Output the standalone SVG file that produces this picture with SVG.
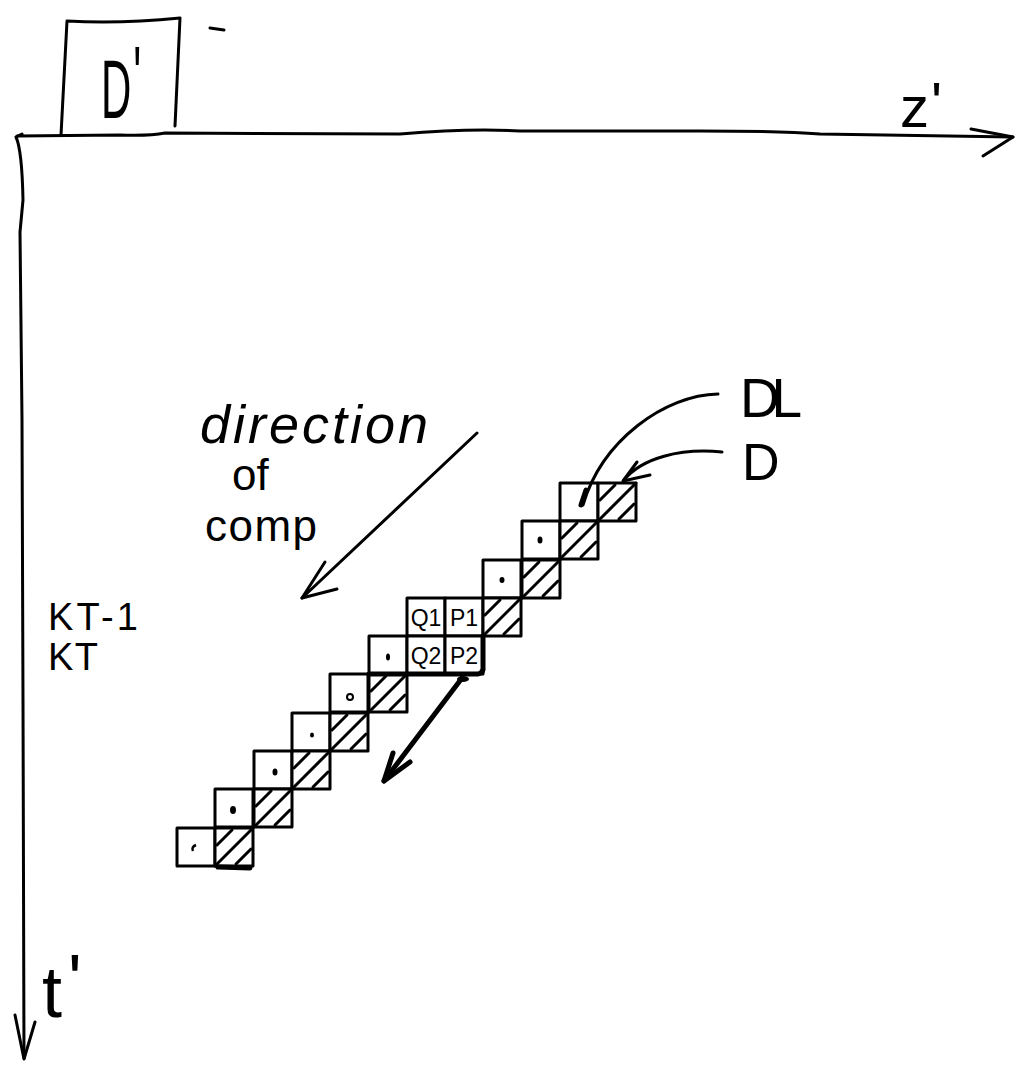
<svg xmlns="http://www.w3.org/2000/svg" xmlns:xlink="http://www.w3.org/1999/xlink" width="1021" height="1067" viewBox="0 0 1021 1067">
<style>
  .ln{fill:none;stroke:#000;stroke-width:3;stroke-linecap:round;stroke-linejoin:round}
  .thk{fill:none;stroke:#000;stroke-width:5;stroke-linecap:round;stroke-linejoin:round}
  .cell{fill:#fff;stroke:#000;stroke-width:3;stroke-linejoin:round}
  .hatch{stroke:#000;stroke-width:3;stroke-linecap:round}
  .dot{fill:#000}
  text{font-family:"Liberation Sans","DejaVu Sans",sans-serif;fill:#000}
  .lbl{font-size:38px}
  .cl{font-size:23px;text-anchor:middle}
</style>
<defs>
  <g id="hc">
    <rect class="cell" x="0" y="0" width="38" height="38"/>
    <line class="hatch" x1="0" y1="38" x2="38" y2="0"/>
    <line class="hatch" x1="2" y1="17" x2="17" y2="2"/>
    <line class="hatch" x1="21" y1="36" x2="36" y2="21"/>
  </g>
  <rect id="pc" class="cell" x="0" y="0" width="38" height="38"/>
</defs>

<g id="axes">
  <path class="ln" d="M22 134 L16 137 Q22 150 23 200 L20 232 L22 420 L23 700 L24 1058"/>
  <path class="ln" d="M15 1015 L24 1059 L35 1022"/>
  <path class="ln" d="M17 136 L120 135 Q150 136 165 133 L400 134 Q470 128 520 131 L700 131 Q780 131 820 134 L1013 137"/>
  <path class="ln" d="M971 129 L1013 137 L983 156"/>
</g>

<g id="node-Dprime">
  <path class="ln" d="M61 135 L67 21 Q120 24 180 18 L175 126"/>
  <text transform="translate(101,118) scale(0.5,1)" font-size="84">D<tspan dx="4" dy="-14">'</tspan></text>
  <line class="ln" x1="210" y1="28" x2="224" y2="30"/>
</g>

<g id="label-z">
  <text x="900" y="127" font-size="58">z<tspan dx="2" dy="-4">'</tspan></text>
</g>
<g id="label-t">
  <text x="42" y="1017" font-size="72">t<tspan dx="6" dy="-12">'</tspan></text>
</g>

<g id="label-direction">
  <text x="200" y="443" font-size="54" font-style="italic" textLength="228" lengthAdjust="spacing">direction</text>
  <text x="232" y="490" font-size="44">of</text>
  <text x="205" y="541" font-size="44" textLength="112" lengthAdjust="spacing">comp</text>
</g>

<g id="label-KT">
  <text class="lbl" x="48" y="630" textLength="90" lengthAdjust="spacing">KT-1</text>
  <text class="lbl" x="48" y="670" textLength="50" lengthAdjust="spacing">KT</text>
</g>

<g id="label-DL"><text x="740" y="417" font-size="55" textLength="62" lengthAdjust="spacing">DL</text></g>
<g id="label-D"><text x="742" y="480" font-size="52">D</text></g>

<g id="staircase">
  <g id="row0">
    <use xlink:href="#pc" x="560" y="483"/>
    <use xlink:href="#hc" x="598" y="483"/>
  </g>
  <g id="row1">
    <use xlink:href="#pc" x="522" y="521"/>
    <use xlink:href="#hc" x="560" y="521"/>
    <ellipse class="dot" cx="540" cy="540" rx="2.5" ry="3.5"/>
  </g>
  <g id="row2">
    <use xlink:href="#pc" x="483" y="560"/>
    <use xlink:href="#hc" x="522" y="560"/>
    <ellipse class="dot" cx="502" cy="580" rx="2.5" ry="3"/>
  </g>
  <g id="row3">
    <use xlink:href="#pc" x="407" y="598"/>
    <use xlink:href="#pc" x="445" y="598"/>
    <use xlink:href="#hc" x="483" y="598"/>
    <text class="cl" x="426" y="626">Q1</text>
    <text class="cl" x="464" y="626">P1</text>
  </g>
  <g id="row4">
    <use xlink:href="#pc" x="369" y="636"/>
    <use xlink:href="#pc" x="407" y="636"/>
    <use xlink:href="#pc" x="445" y="636"/>
    <ellipse class="dot" cx="388" cy="657" rx="2" ry="3.5"/>
    <text class="cl" x="426" y="664">Q2</text>
    <text class="cl" x="464" y="664">P2</text>
  </g>
  <g id="row5">
    <use xlink:href="#pc" x="330" y="674"/>
    <use xlink:href="#hc" x="369" y="674"/>
    <circle cx="350" cy="697" r="3" fill="none" stroke="#000" stroke-width="2"/>
  </g>
  <g id="row6">
    <use xlink:href="#pc" x="292" y="713"/>
    <use xlink:href="#hc" x="330" y="713"/>
    <ellipse class="dot" cx="312" cy="735" rx="2" ry="2.5"/>
  </g>
  <g id="row7">
    <use xlink:href="#pc" x="254" y="751"/>
    <use xlink:href="#hc" x="292" y="751"/>
    <ellipse class="dot" cx="275" cy="772" rx="2.5" ry="3.5"/>
  </g>
  <g id="row8">
    <use xlink:href="#pc" x="215" y="789"/>
    <use xlink:href="#hc" x="254" y="789"/>
    <ellipse class="dot" cx="233" cy="810" rx="3" ry="4"/>
  </g>
  <g id="row9">
    <use xlink:href="#pc" x="177" y="828"/>
    <use xlink:href="#hc" x="215" y="828"/>
    <path d="M196 845 Q191 847 193 851" fill="none" stroke="#000" stroke-width="2.5"/>
  </g>
  <path class="thk" d="M369 674 L478 674 Q484 673 483 666 L483 636"/>
  <line class="thk" x1="218" y1="867" x2="250" y2="868"/>
</g>

<g id="connectors">
  <path class="ln" d="M477 433 L302 598"/>
  <path class="ln" d="M325 562 L302 598 L337 589"/>
  <path class="ln" d="M718 394 C665 395 602 440 583 505"/>
  <path class="thk" stroke-width="6" d="M586 490 L581 505"/>
  <path class="ln" d="M722 452 C680 448 642 458 624 480"/>
  <path class="ln" d="M637 462 L623 481 L650 475"/>
  <path class="thk" d="M462 678 L384 781"/>
  <path class="thk" d="M393 753 L384 781 L410 762"/>
  <ellipse class="dot" cx="463" cy="679" rx="6" ry="3"/>
</g>
</svg>
